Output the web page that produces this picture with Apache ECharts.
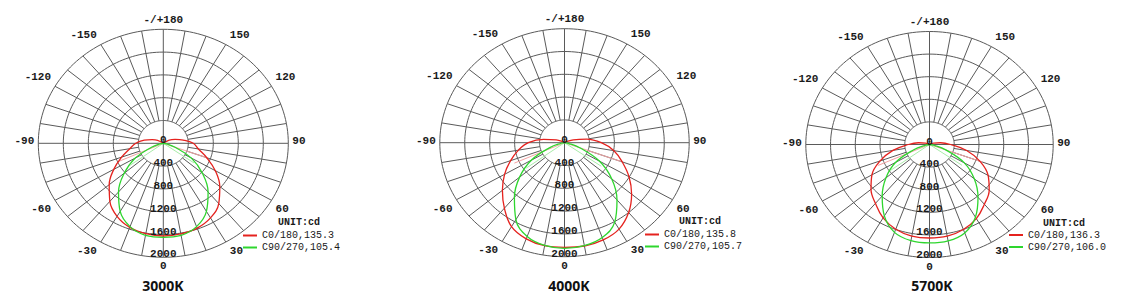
<!DOCTYPE html>
<html>
<head>
<meta charset="utf-8">
<script src="https://cdn.jsdelivr.net/npm/echarts@6/dist/echarts.min.js"></script>
<style>
html,body{margin:0;padding:0;background:#fff;}
#chart{width:1131px;height:304px;}
</style>
</head>
<body>
<div id="chart"></div>
<script>
// ---------------- data ----------------
const TITLES = ['3000K', '4000K', '5700K'];
const UNIT_LABEL = 'UNIT:cd';
const C0_NAMES = ['C0/180,135.3', 'C0/180,135.8', 'C0/180,136.3'];
const C90_NAMES = ['C90/270,105.4', 'C90/270,105.7', 'C90/270,106.0'];

const RING_VALUES = [400, 800, 1200, 1600, 2000];
const RADIAL_LABELS = ['0', '400', '800', '1200', '1600', '2000'];
const RADIAL_VALUES = [0, 400, 800, 1200, 1600, 2000];
const ANGLE_LABEL_DEG = [0, 30, 60, 90, 120, 150, 180, -150, -120, -90, -60, -30];
const ANGLE_LABELS = ['0', '30', '60', '90', '120', '150', '-/+180', '-150', '-120', '-90', '-60', '-30'];

// gamma angles (deg, 0 = straight down) for the C0/180 plane
const ANG_C0 = [-130, -120, -110, -100, -90, -80, -70, -60, -50, -40, -30, -20, -10, 0,
                10, 20, 30, 40, 50, 60, 70, 80, 90, 100, 110, 120, 130];
const C0_3000K = [0, 105, 190, 310, 440, 545, 710, 915, 1130, 1330, 1480, 1570, 1610, 1626,
                  1614, 1583, 1510, 1380, 1180, 960, 740, 570, 480, 325, 200, 110, 0];
const C0_4000K = [0, 40, 140, 340, 580, 750, 920, 1110, 1300, 1500, 1700, 1795, 1835, 1836,
                  1840, 1815, 1750, 1600, 1405, 1195, 985, 805, 590, 361, 150, 40, 0];
const C0_5700K = [0, 20, 70, 180, 340, 600, 850, 1075, 1235, 1360, 1500, 1595, 1645, 1655,
                  1648, 1600, 1515, 1380, 1260, 1095, 870, 610, 340, 180, 70, 20, 0];

// gamma angles for the C90/270 plane
const ANG_C90 = [-90, -80, -70, -60, -50, -40, -30, -20, -10, 0, 10, 20, 30, 40, 50, 60, 70, 80, 90];
const C90_3000K = [0, 60, 200, 520, 815, 1115, 1380, 1556, 1640, 1649, 1640, 1556, 1380, 1115, 815, 520, 200, 60, 0];
const C90_4000K = [0, 55, 250, 615, 940, 1250, 1560, 1750, 1830, 1854, 1835, 1770, 1610, 1310, 990, 645, 260, 60, 0];
const C90_5700K = [0, 65, 270, 630, 920, 1190, 1460, 1655, 1728, 1742, 1732, 1665, 1485, 1220, 945, 650, 280, 70, 0];

// thin light strokes from the centre (angle, cd)
const FAINT_C0_ANG = [-66, 0, 70];
const FAINT_C0_3000K = [790, 0, 760];
const FAINT_C0_4000K = [880, 0, 960];
const FAINT_C0_5700K = [910, 0, 910];
const FAINT_C90_ANG = [-54, 0, 55];
const FAINT_C90_3000K = [680, 0, 600];
const FAINT_C90_4000K = [760, 0, 720];
const FAINT_C90_5700K = [780, 0, 640];

// ---------------- styling / layout ----------------
const LAYOUT = [
  { cx: 163.3, cy: 143.3, rx: 125, ry: 114, legendX: 243, legendY: 230, unitX: 278, unitY: 217.5, titleX: 163 },
  { cx: 564.5, cy: 142.7, rx: 124.7, ry: 114, legendX: 645, legendY: 229, unitX: 679, unitY: 216, titleX: 569 },
  { cx: 929.5, cy: 144.5, rx: 123.7, ry: 113, legendX: 1009, legendY: 229.5, unitX: 1043, unitY: 218, titleX: 932 }
];
const RED = '#e5221e';
const GREEN = '#2ed62e';
const RED_FAINT = '#f3a3a3';
const GREEN_FAINT = '#a9eca9';
const GRID_COLOR = '#5a5a5a';
const TEXT_COLOR = '#1a1a1a';
const MONO = '"Liberation Mono", "DejaVu Sans Mono", monospace';

const C0_SETS = [C0_3000K, C0_4000K, C0_5700K];
const C90_SETS = [C90_3000K, C90_4000K, C90_5700K];
const FAINT_C0_SETS = [FAINT_C0_3000K, FAINT_C0_4000K, FAINT_C0_5700K];
const FAINT_C90_SETS = [FAINT_C90_3000K, FAINT_C90_4000K, FAINT_C90_5700K];

function toXY(angles, vals) {
  return angles.map((a, k) => {
    const t = a * Math.PI / 180;
    return [vals[k] * Math.sin(t), -vals[k] * Math.cos(t)];
  });
}
function polarPt(api, r, deg) {
  const t = deg * Math.PI / 180;
  return api.coord([r * Math.sin(t), -r * Math.cos(t)]);
}

const grids = [], xAxes = [], yAxes = [], series = [], legends = [], titles = [];
const RMAX = RADIAL_VALUES[RADIAL_VALUES.length - 1];
const spokeAngles = [];
for (let a = 0; a < 360; a += 10) spokeAngles.push([a, 0]);

LAYOUT.forEach((L, i) => {
  grids.push({ left: L.cx - L.rx, top: L.cy - L.ry, width: 2 * L.rx, height: 2 * L.ry });
  xAxes.push({ type: 'value', gridIndex: i, min: -RMAX, max: RMAX, show: false });
  yAxes.push({ type: 'value', gridIndex: i, min: -RMAX, max: RMAX, show: false });

  // rings
  series.push({
    type: 'custom', xAxisIndex: i, yAxisIndex: i, silent: true, clip: false, z: 1,
    data: RING_VALUES.map(r => [r, 0]),
    renderItem(params, api) {
      const r = api.value(0);
      const pts = [];
      for (let a = 0; a <= 360; a += 2) pts.push(polarPt(api, r, a));
      return { type: 'polyline', shape: { points: pts }, style: { stroke: GRID_COLOR, lineWidth: 1, fill: null } };
    }
  });
  // spokes
  series.push({
    type: 'custom', xAxisIndex: i, yAxisIndex: i, silent: true, clip: false, z: 1,
    data: spokeAngles,
    renderItem(params, api) {
      const a = api.value(0);
      const inner = (a % 90 === 0) ? 0 : RING_VALUES[0];
      const p1 = polarPt(api, inner, a), p2 = polarPt(api, RMAX, a);
      return { type: 'line', shape: { x1: p1[0], y1: p1[1], x2: p2[0], y2: p2[1] }, style: { stroke: GRID_COLOR, lineWidth: 1 } };
    }
  });
  // angle labels
  series.push({
    type: 'custom', xAxisIndex: i, yAxisIndex: i, silent: true, clip: false, z: 5,
    data: ANGLE_LABEL_DEG.map((d, k) => [d, k]),
    renderItem(params, api) {
      const d = api.value(0), k = api.value(1);
      const t = d * Math.PI / 180;
      const p = polarPt(api, RMAX, d);
      const s = Math.sin(t), c = Math.cos(t);
      let align = 'center', dx = 0;
      if (s > 0.01) { align = 'left'; dx = 4; } else if (s < -0.01) { align = 'right'; dx = -4; }
      let dy = -2;
      if (c > 0.01) dy = 9; else if (c < -0.01) dy = -9.5;
      return { type: 'text', x: p[0] + dx, y: p[1] + dy,
        style: { text: ANGLE_LABELS[k], fill: TEXT_COLOR, font: 'bold 11px ' + MONO, align: align, verticalAlign: 'middle' } };
    }
  });
  // radial labels
  series.push({
    type: 'custom', xAxisIndex: i, yAxisIndex: i, silent: true, clip: false, z: 6,
    data: RADIAL_VALUES.map((v, k) => [v, k]),
    renderItem(params, api) {
      const v = api.value(0), k = api.value(1);
      const p = polarPt(api, v, 0);
      return { type: 'text', x: p[0], y: p[1] - 3,
        style: { text: RADIAL_LABELS[k], fill: TEXT_COLOR, font: 'bold 11px ' + MONO, align: 'center', verticalAlign: 'middle' } };
    }
  });
  // faint strokes
  series.push({
    type: 'line', xAxisIndex: i, yAxisIndex: i, silent: true, clip: false, z: 2,
    data: toXY(FAINT_C0_ANG, FAINT_C0_SETS[i]), showSymbol: false,
    lineStyle: { color: RED_FAINT, width: 1 }
  });
  series.push({
    type: 'line', xAxisIndex: i, yAxisIndex: i, silent: true, clip: false, z: 2,
    data: toXY(FAINT_C90_ANG, FAINT_C90_SETS[i]), showSymbol: false,
    lineStyle: { color: GREEN_FAINT, width: 1 }
  });
  // curves
  series.push({
    type: 'line', name: C0_NAMES[i], xAxisIndex: i, yAxisIndex: i, clip: false, z: 4,
    data: toXY(ANG_C0, C0_SETS[i]), showSymbol: false, smooth: 0.4,
    lineStyle: { color: RED, width: 1.3 }, itemStyle: { color: RED }
  });
  series.push({
    type: 'line', name: C90_NAMES[i], xAxisIndex: i, yAxisIndex: i, clip: false, z: 4,
    data: toXY(ANG_C90, C90_SETS[i]), showSymbol: false, smooth: 0.4,
    lineStyle: { color: GREEN, width: 1.3 }, itemStyle: { color: GREEN }
  });

  legends.push({
    data: [C0_NAMES[i], C90_NAMES[i]], orient: 'vertical', left: L.legendX, top: L.legendY,
    padding: 0, itemGap: 1, itemWidth: 14, itemHeight: 2, icon: 'rect', selectedMode: false,
    textStyle: { fontFamily: MONO, fontSize: 10, lineHeight: 11, color: TEXT_COLOR, padding: 0 }
  });
  titles.push({
    text: TITLES[i], left: L.titleX, top: 278, textAlign: 'center', padding: 0,
    textStyle: { fontFamily: '"Open Sans", Arial, sans-serif', fontWeight: 'bold', fontSize: 14, color: '#111' }
  });
  titles.push({
    text: UNIT_LABEL, left: L.unitX, top: L.unitY, padding: 0,
    textStyle: { fontFamily: MONO, fontWeight: 'bold', fontSize: 10, color: TEXT_COLOR }
  });
});

const chart = echarts.init(document.getElementById('chart'), null, { renderer: 'svg' });
chart.setOption({
  backgroundColor: '#ffffff',
  animation: false,
  title: titles,
  legend: legends,
  grid: grids,
  xAxis: xAxes,
  yAxis: yAxes,
  series: series
});
</script>
</body>
</html>
